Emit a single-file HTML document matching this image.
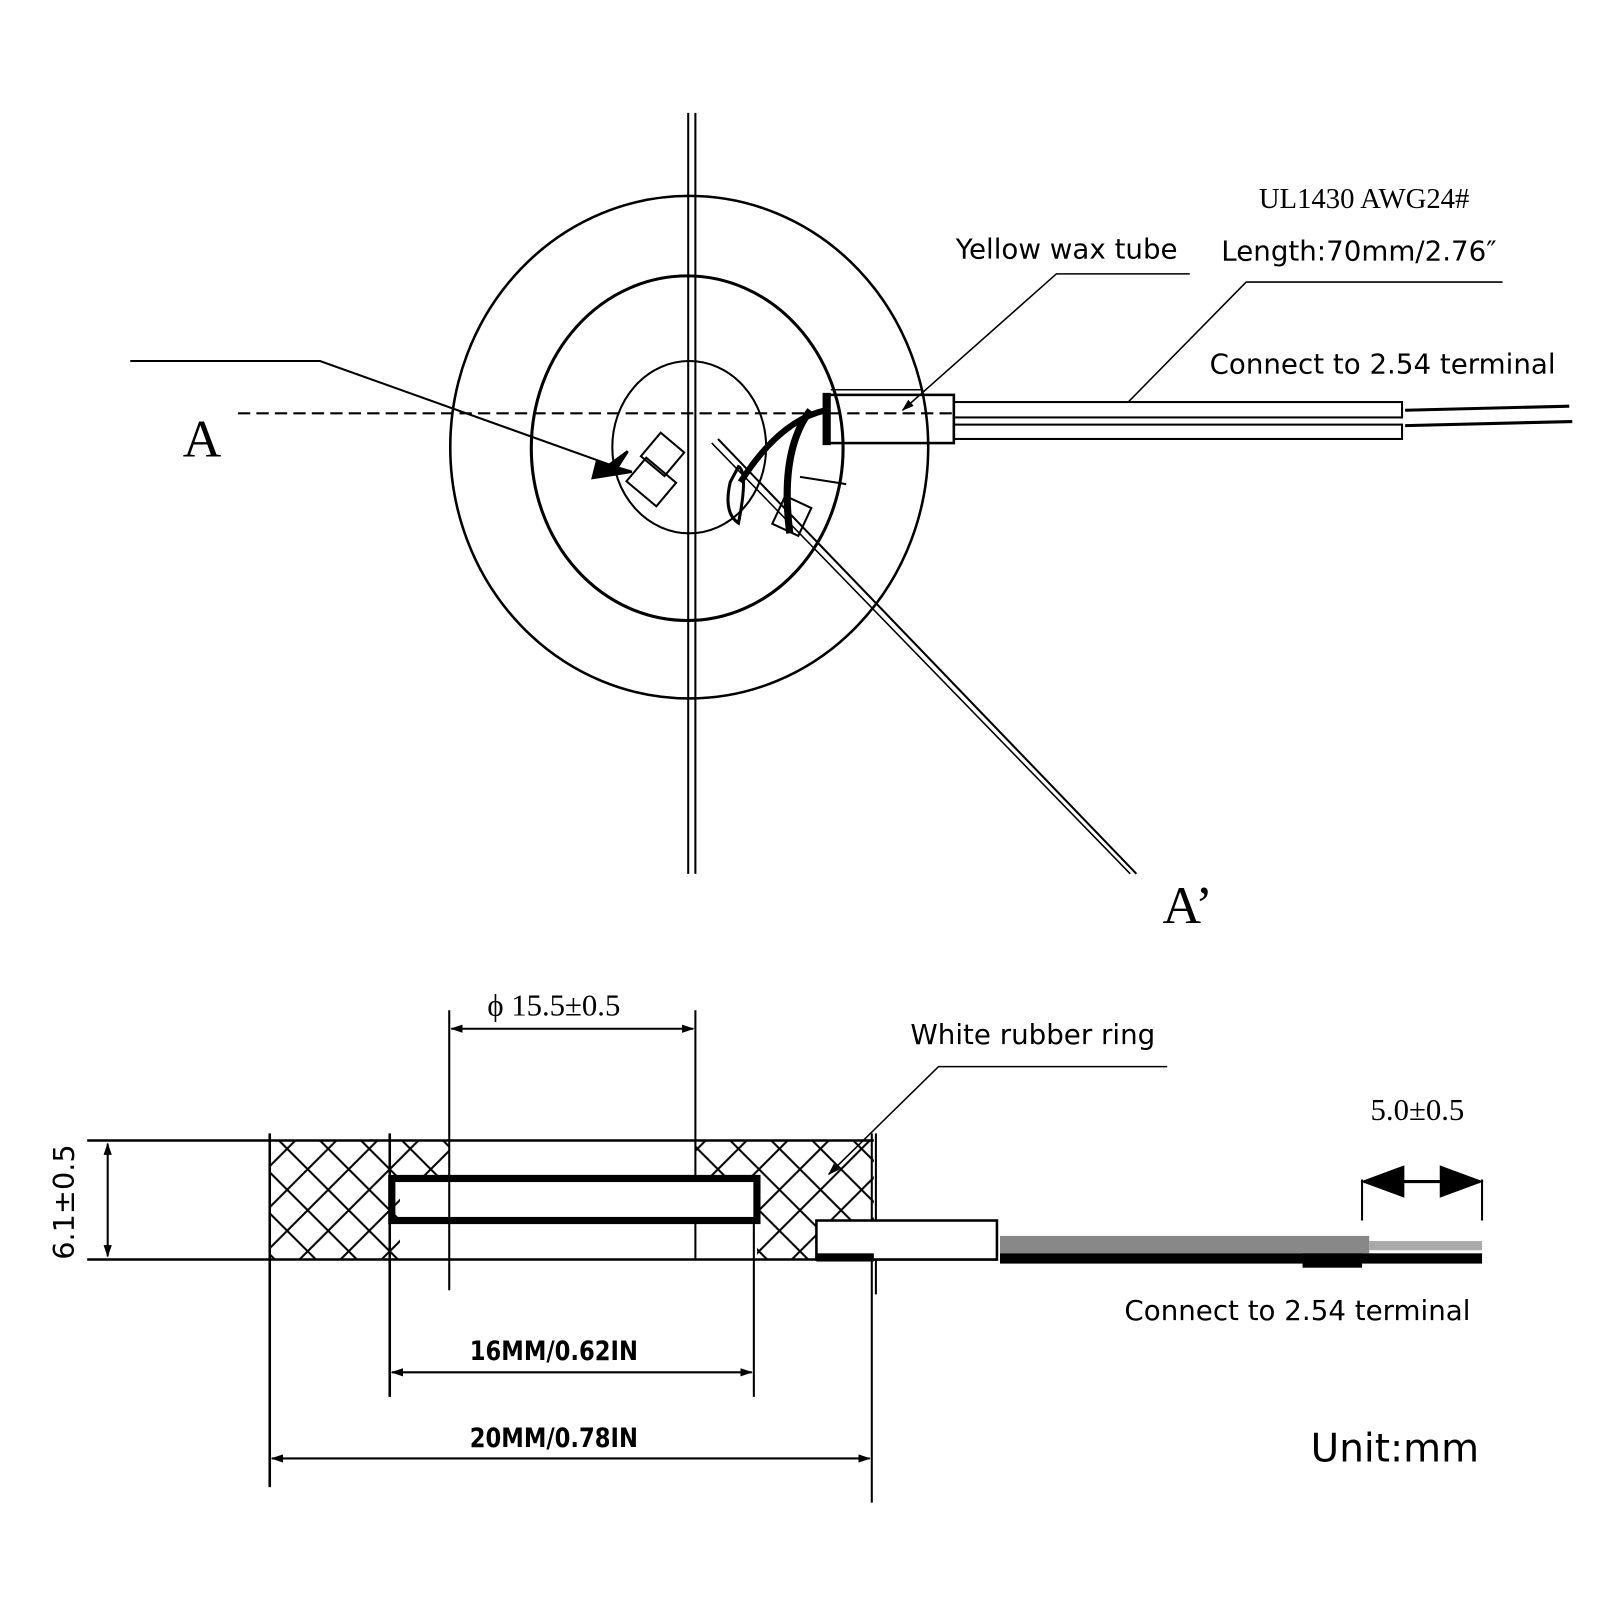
<!DOCTYPE html>
<html><head><meta charset="utf-8"><style>
html,body{margin:0;padding:0;background:#fff;}
svg{display:block;}
.s{font-family:"DejaVu Sans","Liberation Sans",sans-serif;}
.r{font-family:"Liberation Serif",serif;}
</style></head><body>
<svg width="1600" height="1600" viewBox="0 0 1560 1560" xmlns="http://www.w3.org/2000/svg">
<defs>
<marker id="ar" markerWidth="12" markerHeight="8" refX="11" refY="4" orient="auto" markerUnits="userSpaceOnUse"><path d="M0,0 L12,4 L0,8 z" fill="#000"/></marker>
<marker id="al" markerWidth="12" markerHeight="8" refX="1" refY="4" orient="auto" markerUnits="userSpaceOnUse"><path d="M12,0 L0,4 L12,8 z" fill="#000"/></marker>
<pattern id="h" width="40" height="40" patternUnits="userSpaceOnUse"><path d="M0,0 L40,40 M40,0 L0,40 M-20,20 L20,60 M20,-20 L60,20 M-20,20 L20,-20 M20,60 L60,20" stroke="#000" stroke-width="2"/></pattern>
</defs>
<g fill="none" stroke="#000" stroke-width="2.5">
<!-- top view -->
<line x1="671" y1="110" x2="671" y2="852" stroke-width="2"/>
<line x1="678" y1="110" x2="678" y2="852" stroke-width="2"/>
<ellipse cx="672" cy="436" rx="233" ry="245" stroke-width="2.5"/>
<ellipse cx="670" cy="437" rx="152" ry="168" stroke-width="3"/>
<ellipse cx="672" cy="436" rx="75" ry="84" stroke-width="2"/>
<line x1="232" y1="403" x2="930" y2="403" stroke-dasharray="12,6" stroke-width="2"/>
<polyline points="127,352 312,352 600,455" stroke-width="2"/>
<path d="M578,465 L612,440 L598,462 z" fill="#000"/>
<path d="M582,450 L616,460 L578,466 z" fill="#000"/>
<rect x="631" y="428" width="30" height="30" transform="rotate(40 646 443)" stroke-width="2"/>
<rect x="616" y="455" width="38" height="30" transform="rotate(40 635 470)" stroke-width="2"/>
<line x1="1108" y1="852" x2="700" y2="428" stroke-width="2"/>
<line x1="1102" y1="852" x2="694" y2="432" stroke-width="1.5"/>
<path d="M712,470 Q705,500 720,510 Q730,460 720,455 z" stroke-width="3"/>
<path d="M722,470 Q760,410 805,400" stroke-width="6"/>
<path d="M790,400 Q760,440 770,520" stroke-width="7"/>
<rect x="758" y="488" width="28" height="30" transform="rotate(25 772 503)" stroke-width="2"/>
<line x1="780" y1="465" x2="825" y2="472" stroke-width="2"/>
<rect x="806" y="385" width="124" height="47" stroke-width="2.5"/>
<line x1="806" y1="383" x2="806" y2="434" stroke-width="8"/>
<line x1="810" y1="380" x2="900" y2="380" stroke-width="1.5"/>
<rect x="930" y="392" width="437" height="15" stroke-width="2"/>
<rect x="930" y="414" width="437" height="14" stroke-width="2"/>
<line x1="1370" y1="400" x2="1530" y2="396" stroke-width="3"/>
<line x1="1370" y1="415" x2="1533" y2="411" stroke-width="3"/>
<polyline points="1160,267 1030,267 880,400" stroke-width="1.5" marker-end="url(#ar)"/>
<polyline points="1465,275 1215,275 1100,392" stroke-width="1.5"/>
<!-- bottom view -->
<rect x="263" y="1112" width="117" height="116" fill="url(#h)" stroke="none"/>
<rect x="380" y="1112" width="58" height="36" fill="url(#h)" stroke="none"/>
<rect x="678" y="1112" width="174" height="36" fill="url(#h)" stroke="none"/>
<rect x="738" y="1148" width="114" height="80" fill="url(#h)" stroke="none"/>
<rect x="380" y="1148" width="10" height="80" fill="url(#h)" stroke="none"/>
<line x1="85" y1="1112" x2="852" y2="1112" stroke-width="2.5"/>
<line x1="85" y1="1228" x2="972" y2="1228" stroke-width="2.5"/>
<rect x="382" y="1149" width="356" height="41" stroke-width="7"/>
<line x1="263" y1="1105" x2="263" y2="1450"/>
<line x1="380" y1="1105" x2="380" y2="1362"/>
<line x1="438" y1="985" x2="438" y2="1258" stroke-width="2"/>
<line x1="678" y1="985" x2="678" y2="1150" stroke-width="2"/>
<line x1="678" y1="1190" x2="678" y2="1228" stroke-width="2"/>
<line x1="735" y1="1190" x2="735" y2="1362" stroke-width="2"/>
<line x1="850" y1="1105" x2="850" y2="1465" stroke-width="2"/>
<line x1="854" y1="1105" x2="854" y2="1262" stroke-width="2"/>
<line x1="440" y1="1003" x2="676" y2="1003" stroke-width="2" marker-start="url(#al)" marker-end="url(#ar)"/>
<line x1="382" y1="1338" x2="733" y2="1338" stroke-width="2" marker-start="url(#al)" marker-end="url(#ar)"/>
<line x1="265" y1="1422" x2="848" y2="1422" stroke-width="2" marker-start="url(#al)" marker-end="url(#ar)"/>
<line x1="105" y1="1115" x2="105" y2="1225" stroke-width="2" marker-start="url(#al)" marker-end="url(#ar)"/>
<rect x="796" y="1190" width="176" height="38" fill="#fff" stroke-width="2.5"/>
<rect x="796" y="1222" width="56" height="8" fill="#000" stroke="none"/>
<rect x="975" y="1205" width="360" height="17" fill="#888" stroke="none"/>
<rect x="1335" y="1210" width="110" height="9" fill="#aaa" stroke="none"/>
<rect x="975" y="1222" width="470" height="10" fill="#000" stroke="none"/>
<rect x="1270" y="1222" width="58" height="14" fill="#000" stroke="none"/>
<line x1="1328" y1="1150" x2="1328" y2="1190" stroke-width="2"/>
<line x1="1445" y1="1150" x2="1445" y2="1190" stroke-width="2"/>
<line x1="1330" y1="1152" x2="1443" y2="1152" stroke-width="3"/>
<path d="M1330,1152 L1368,1138 L1368,1166 z M1443,1152 L1405,1138 L1405,1166 z" fill="#000"/>
<polyline points="1138,1040 915,1040 808,1145" stroke-width="1.5" marker-end="url(#ar)"/>
</g>
<g fill="#000">
<text x="197" y="445" class="r" font-size="52" text-anchor="middle">A</text>
<text x="1158" y="900" class="r" font-size="52" text-anchor="middle">A’</text>
<text x="1330" y="203" class="r" font-size="28" text-anchor="middle">UL1430 AWG24#</text>
<text x="1040" y="252" class="s" font-size="27" text-anchor="middle">Yellow wax tube</text>
<text x="1325" y="254" class="s" font-size="27" text-anchor="middle">Length:70mm/2.76″</text>
<text x="1348" y="364" class="s" font-size="27" text-anchor="middle">Connect to 2.54 terminal</text>
<text x="540" y="990" class="r" font-size="30" text-anchor="middle">ϕ 15.5±0.5</text>
<text x="1007" y="1018" class="s" font-size="27" text-anchor="middle">White rubber ring</text>
<text x="1382" y="1092" class="r" font-size="30" text-anchor="middle">5.0±0.5</text>
<text x="1265" y="1287" class="s" font-size="27" text-anchor="middle">Connect to 2.54 terminal</text>
<text x="540" y="1326" class="s" font-size="26" font-weight="bold" text-anchor="middle" transform="translate(540 0) scale(0.85 1) translate(-540 0)">16MM/0.62IN</text>
<text x="540" y="1411" class="s" font-size="26" font-weight="bold" text-anchor="middle" transform="translate(540 0) scale(0.85 1) translate(-540 0)">20MM/0.78IN</text>
<text x="1360" y="1425" class="s" font-size="38" text-anchor="middle">Unit:mm</text>
<text transform="translate(72 1172) rotate(-90)" class="s" font-size="28" text-anchor="middle">6.1±0.5</text>
</g>
</svg>
</body></html>
